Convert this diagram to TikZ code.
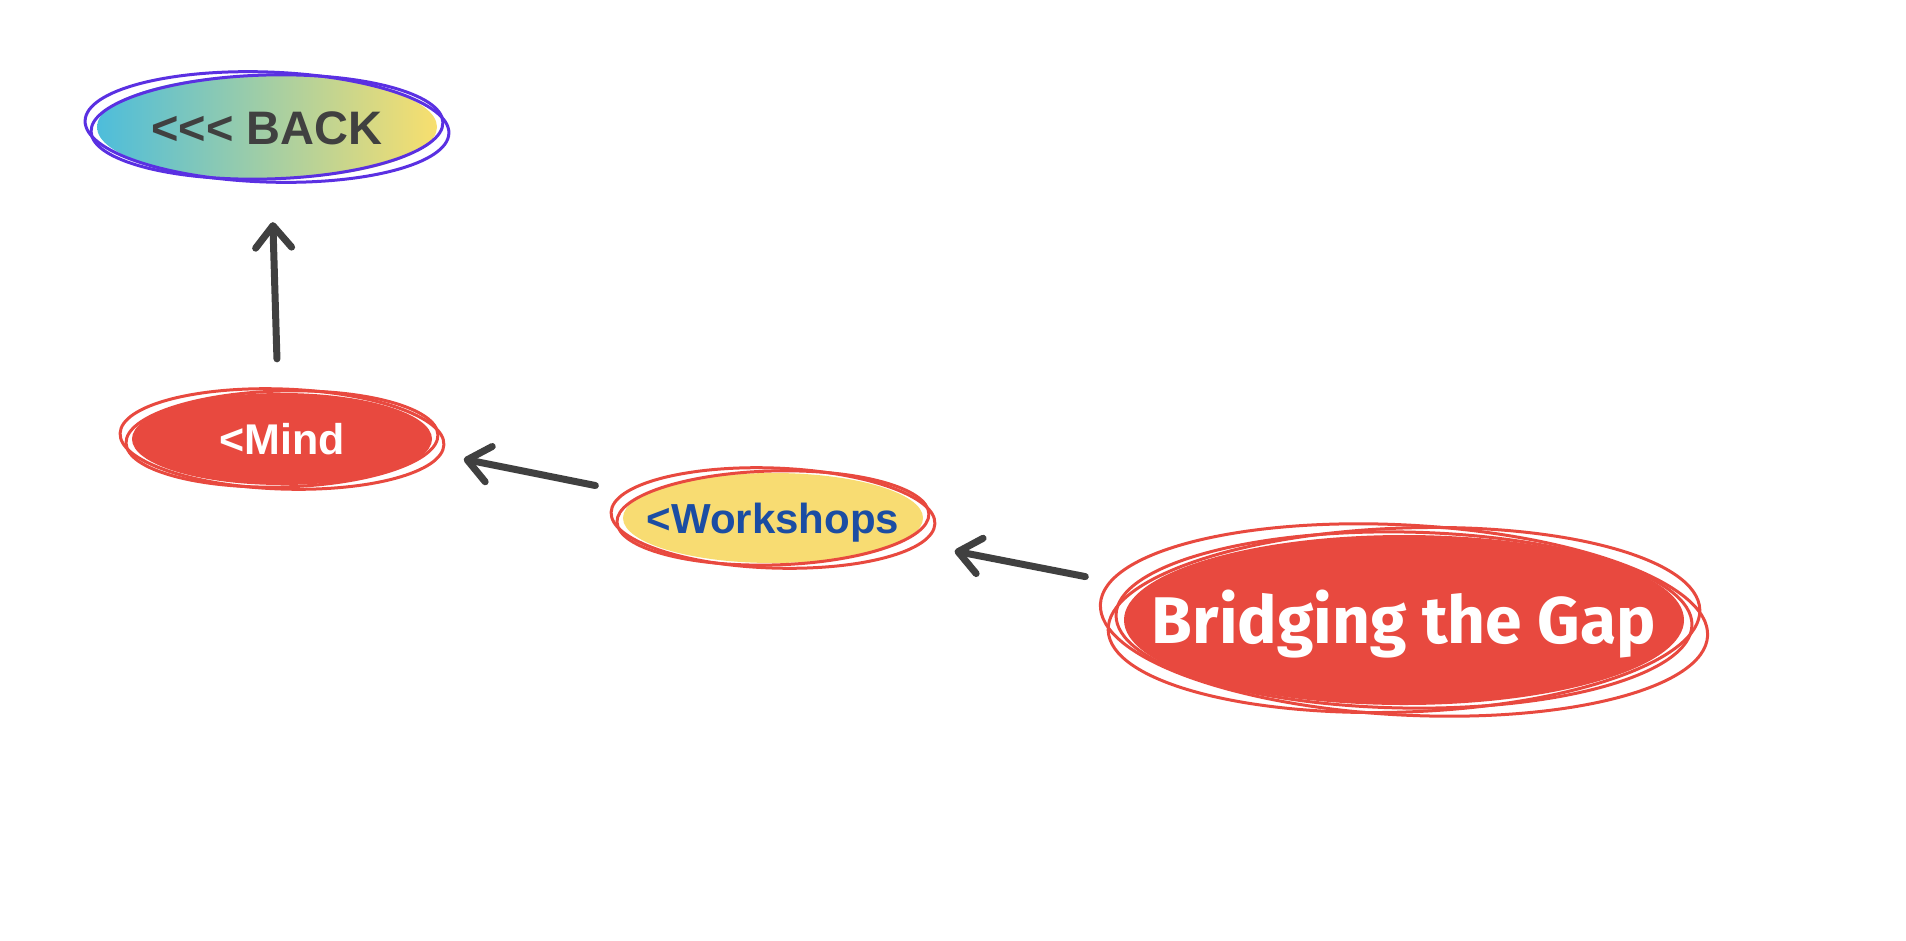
\documentclass[tikz,border=0pt]{standalone}
\usepackage{fontspec}
\setmainfont{Liberation Sans}
\newfontfamily\gapfont{Fira Sans}
\usetikzlibrary{shapes.geometric, arrows.meta}
\definecolor{inkgray}{HTML}{404040}
\definecolor{btnred}{HTML}{E8493F}
\definecolor{btnyellow}{HTML}{F8DC72}
\definecolor{btnblue}{HTML}{1B4DA3}
\definecolor{scribblepurple}{HTML}{5A30E2}
\definecolor{shadecyan}{HTML}{4DBDDB}
\definecolor{shadeyellow}{HTML}{F8DF6E}
\tikzset{
        btn/.style={ellipse, inner sep=0pt, text depth=0pt, font=\bfseries},
        backbtn/.style={btn, shade, left color=shadecyan, right color=shadeyellow, text=inkgray},
        redbtn/.style={btn, fill=btnred, text=white},
        yellowbtn/.style={btn, fill=btnyellow, text=btnblue},
        scribble/.style={draw=btnred, line width=3pt},
        purplescribble/.style={draw=scribblepurple, line width=3pt},
        link/.style={draw=inkgray, line width=7pt, line cap=round, -{Straight Barb[length=22pt, width=36pt, round]}}
          }

\begin{document}
\begin{tikzpicture}[x=1pt, y=-1pt]
            \useasboundingbox (0,0) rectangle (1906,940);
            % buttons
            \node[backbtn, minimum width=340pt, minimum height=104pt, text height=34pt,
              font=\bfseries\fontsize{47}{50}\selectfont] (back) at (267,127) {\makebox[0pt]{<{}<{}< BACK}};
            \node[redbtn, minimum width=300pt, minimum height=92pt, text height=31pt,
              font=\bfseries\fontsize{43}{46}\selectfont] (mind) at (282,439) {\makebox[0pt]{<Mind}};
            \node[yellowbtn, minimum width=300pt, minimum height=90pt, text height=30pt,
              font=\bfseries\fontsize{42}{45}\selectfont] (workshops) at (773,518) {\makebox[0pt]{<Workshops}};
            \node[redbtn, minimum width=560pt, minimum height=170pt, text height=46pt,
              font=\gapfont\bfseries\fontsize{66}{70}\selectfont] (gap) at (1404,620) {\makebox[0pt]{Bridging the Gap}};
            % scribbles
            \draw[purplescribble, rotate around={-2:(back.center)}] (back.center) ellipse [x radius=182pt, y radius=55pt];
            \draw[purplescribble, rotate around={1.5:(back.center)}] (back.center) ellipse [x radius=176pt, y radius=52pt];
            \draw[scribble, rotate around={-2:(mind.center)}] (mind.center) ellipse [x radius=162pt, y radius=50pt];
            \draw[scribble, rotate around={1.5:(mind.center)}] (mind.center) ellipse [x radius=156pt, y radius=48pt];
            \draw[scribble, rotate around={-2:(workshops.center)}] (workshops.center) ellipse [x radius=162pt, y radius=50pt];
            \draw[scribble, rotate around={1.5:(workshops.center)}] (workshops.center) ellipse [x radius=156pt, y radius=47pt];
            \draw[scribble, rotate around={-3:(gap.center)}] (gap.center) ellipse [x radius=304pt, y radius=95pt];
            \draw[scribble, rotate around={2:(gap.center)}] (gap.center) ellipse [x radius=296pt, y radius=92pt];
            \draw[scribble, rotate around={-1:(gap.center)}] (gap.center) ellipse [x radius=288pt, y radius=88pt];
            % arrows
            \draw[link, shorten <=34pt, shorten >=43pt] (mind.95) -- (back.-85);
            \draw[link, shorten <=49pt, shorten >=38pt] (workshops.170) -- (mind.-5);
            \draw[link, shorten <=60pt, shorten >=53pt] (gap.173) -- (workshops.-10);
          \end{tikzpicture}
\end{document}
